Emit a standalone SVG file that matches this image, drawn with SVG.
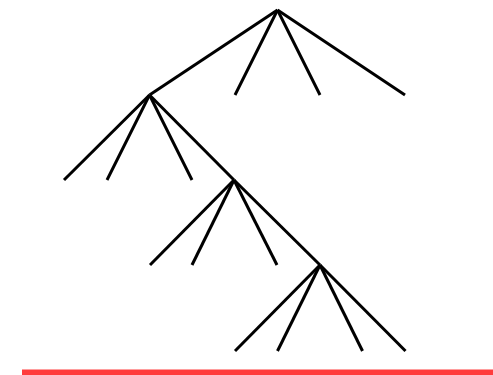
<svg xmlns="http://www.w3.org/2000/svg" width="493" height="375" viewBox="0 0 493 375">
<style>
.e{stroke:#000;stroke-width:3;fill:none;stroke-linecap:butt}
</style>
<rect width="493" height="375" fill="#fff"/>
<g id="connectors">
<line class="e" x1="277.5" y1="10" x2="149.5" y2="95"/>
<line class="e" x1="277.5" y1="10" x2="235" y2="95"/>
<line class="e" x1="277.5" y1="10" x2="320" y2="95"/>
<line class="e" x1="277.5" y1="10" x2="405" y2="95"/>
<line class="e" x1="149.5" y1="95" x2="64" y2="180"/>
<line class="e" x1="149.5" y1="95" x2="107" y2="180"/>
<line class="e" x1="149.5" y1="95" x2="192" y2="180"/>
<line class="e" x1="149.5" y1="95" x2="234" y2="180"/>
<line class="e" x1="234" y1="180" x2="150" y2="265"/>
<line class="e" x1="234" y1="180" x2="192" y2="265"/>
<line class="e" x1="234" y1="180" x2="277" y2="265"/>
<line class="e" x1="234" y1="180" x2="320" y2="265"/>
<line class="e" x1="320" y1="265" x2="235" y2="351"/>
<line class="e" x1="320" y1="265" x2="277.5" y2="351"/>
<line class="e" x1="320" y1="265" x2="362.5" y2="351"/>
<line class="e" x1="320" y1="265" x2="405.5" y2="351"/>
</g>
<g id="ground">
<rect x="22" y="369.5" width="471" height="5.5" fill="#ff3c3c"/>
</g>
</svg>
